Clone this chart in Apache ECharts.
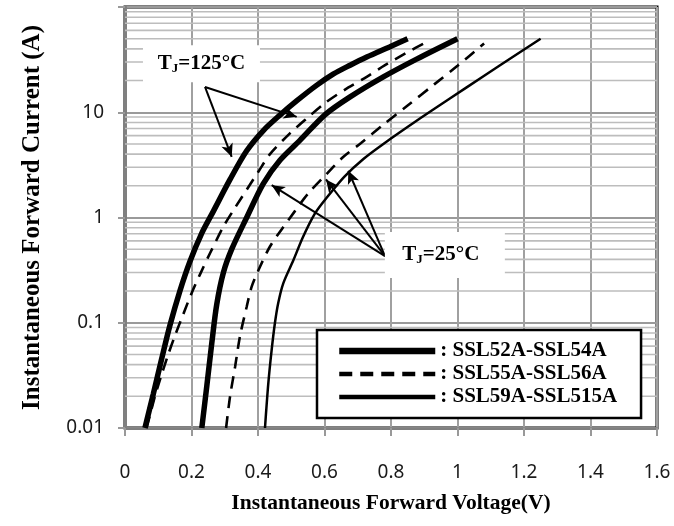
<!DOCTYPE html>
<html>
<head>
<meta charset="utf-8">
<script src="https://cdn.jsdelivr.net/npm/echarts@6/dist/echarts.min.js"></script>
<style>
  html, body { margin: 0; padding: 0; background: #fff; }
  #chart { width: 674px; height: 526px; }
</style>
</head>
<body>
<div id="chart"></div>
<script>
// forward characteristics, [voltage (V), current (A)]
const ssl52At125 = [[0.06, 0.01], [0.085, 0.021], [0.11, 0.045], [0.135, 0.094], [0.165, 0.2], [0.195, 0.38],
  [0.23, 0.7], [0.266, 1.15], [0.316, 2.3], [0.366, 4.3], [0.416, 6.7], [0.466, 9.4], [0.516, 12.8],
  [0.576, 18], [0.626, 23], [0.677, 28], [0.727, 33.5], [0.797, 42], [0.85, 50]];
const ssl55At125 = [[0.065, 0.01], [0.09, 0.02], [0.107, 0.03], [0.13, 0.05], [0.15, 0.075], [0.175, 0.12],
  [0.2, 0.19], [0.226, 0.29], [0.256, 0.46], [0.296, 0.82], [0.326, 1.17], [0.401, 2.72], [0.436, 4.0],
  [0.496, 6.3], [0.546, 8.7], [0.607, 12.6], [0.672, 17.2], [0.727, 21.7], [0.782, 28], [0.842, 36], [0.915, 48]];
const ssl52At25 = [[0.231, 0.01], [0.246, 0.025], [0.261, 0.064], [0.276, 0.15], [0.296, 0.3], [0.321, 0.5],
  [0.366, 1.0], [0.416, 2.1], [0.466, 3.5], [0.526, 5.4], [0.602, 9.5], [0.677, 14], [0.777, 21.7],
  [0.877, 32], [1.0, 50]];
const ssl55At25 = [[0.304, 0.01], [0.316, 0.02], [0.331, 0.038], [0.346, 0.075], [0.366, 0.142], [0.381, 0.22],
  [0.406, 0.34], [0.436, 0.53], [0.471, 0.77], [0.511, 1.15], [0.551, 1.69], [0.607, 2.6], [0.657, 3.78],
  [0.71, 5.1], [0.77, 7.3], [0.85, 11.6], [0.93, 18.4], [1.0, 27.6], [1.08, 45]];
const ssl59At25 = [[0.421, 0.01], [0.431, 0.0265], [0.441, 0.055], [0.451, 0.1], [0.461, 0.155], [0.476, 0.237],
  [0.506, 0.39], [0.536, 0.66], [0.571, 1.09], [0.607, 1.55], [0.66, 2.45], [0.717, 3.6], [0.777, 5.0],
  [0.877, 8.3], [0.977, 13.5], [1.078, 22], [1.128, 28], [1.25, 50]];

const legendNames = ['SSL52A-SSL54A', 'SSL55A-SSL56A', 'SSL59A-SSL515A'];
const xTickLabels = ['0', '0.2', '0.4', '0.6', '0.8', '1', '1.2', '1.4', '1.6'];
const yTickLabels = ['0.01', '0.1', '1', '10', ''];   // 0.01 .. 100, the top one is left blank
const decades = [0.01, 0.1, 1, 10];
const xRange = [0, 1.6];

// annotation labels and the points their arrows aim at, in data units
const label125 = [0.23, 28.9];
const label25 = [0.962, 0.44];
const arrow125From = [0.2406, 17.4];
const arrow125To = [[0.5164, 9.04], [0.3209, 3.77]];
const arrow25From = [0.782, 0.43];
const arrow25To = [[0.4412, 2.03], [0.6045, 2.30], [0.6716, 2.78]];

const serif = 'Liberation Serif';
const sans = 'Noto Sans';

// minor log grid lines (2..9 in every decade), one broken line series
const minorGrid = [];
decades.forEach(d => {
  for (let k = 2; k <= 9; k++) {
    minorGrid.push([xRange[0], k * d], [xRange[1], k * d], [xRange[1], '-']);
  }
});

const thick = { color: '#000', width: 5.5, type: 'solid' };
const dashed = { color: '#000', width: 2.6, type: [12, 8] };
const thin = { color: '#000', width: 2.5, type: 'solid' };

function curve(name, data, style) {
  return {
    name: name,
    type: 'line',
    data: data,
    smooth: 0.3,
    symbol: 'none',
    lineStyle: style,
    itemStyle: { color: '#000' },
    z: 3
  };
}

const tjRich = {
  t: { fontFamily: serif, fontWeight: 'bold', fontSize: 21, color: '#000', lineHeight: 22 },
  s: { fontFamily: serif, fontWeight: 'bold', fontSize: 13, color: '#000', lineHeight: 8, verticalAlign: 'bottom' }
};

const arrows = [];
arrow125To.forEach(p => arrows.push([{ coord: arrow125From }, { coord: p }]));
arrow25To.forEach(p => arrows.push([{ coord: arrow25From }, { coord: p }]));

const chart = echarts.init(document.getElementById('chart'));

chart.setOption({
  animation: false,
  grid: {
    left: 125, right: 17, top: 7, bottom: 98,
    show: true, borderColor: '#000', borderWidth: 3, backgroundColor: 'transparent'
  },
  xAxis: {
    type: 'value',
    min: xRange[0], max: xRange[1], interval: 0.2,
    name: 'Instantaneous Forward Voltage(V)',
    nameLocation: 'middle',
    nameGap: 64,
    nameTextStyle: { fontFamily: serif, fontWeight: 'bold', fontSize: 21.5, color: '#000' },
    axisLine: { show: true, lineStyle: { color: '#808080', width: 2.5 } },
    axisTick: { show: true, length: 8, lineStyle: { color: '#999', width: 2 } },
    axisLabel: {
      margin: 35, fontFamily: sans, fontSize: 19, color: '#1a1a1a',
      formatter: v => xTickLabels[Math.round(v / 0.2)]
    },
    splitLine: { show: true, lineStyle: { color: '#a0a0a0', width: 2 } }
  },
  yAxis: {
    type: 'log',
    logBase: 10,
    min: 0.01, max: 100,
    name: 'Instantaneous Forward Current (A)',
    nameLocation: 'middle',
    nameGap: 80,
    nameTextStyle: { fontFamily: serif, fontWeight: 'bold', fontSize: 25, color: '#000' },
    axisLine: { show: true, lineStyle: { color: '#808080', width: 3 } },
    axisTick: { show: true, length: 7, lineStyle: { color: '#999', width: 2 } },
    axisLabel: {
      margin: 21, fontFamily: sans, fontSize: 19, color: '#1a1a1a',
      formatter: v => yTickLabels[Math.round(Math.log10(v)) + 2]
    },
    splitLine: { show: true, lineStyle: { color: '#9a9a9a', width: 2 } },
    minorTick: { show: false },
    minorSplitLine: { show: false }
  },
  legend: {
    orient: 'vertical',
    left: 317, top: 330,
    padding: [10, 24, 10, 19],
    itemWidth: 96,
    itemHeight: 16,
    itemGap: 1,
    backgroundColor: '#fff',
    borderColor: '#000',
    borderWidth: 2.5,
    borderRadius: 0,
    selectedMode: false,
    formatter: name => ': ' + name,
    textStyle: { fontFamily: serif, fontWeight: 'bold', fontSize: 21, color: '#000', lineHeight: 22 },
    data: [
      { name: legendNames[0], itemStyle: { opacity: 0 }, lineStyle: { width: 6.5, type: 'solid', color: '#000' } },
      { name: legendNames[1], itemStyle: { opacity: 0 }, lineStyle: { width: 4.5, type: [13, 8], color: '#000' } },
      { name: legendNames[2], itemStyle: { opacity: 0 }, lineStyle: { width: 4.5, type: 'solid', color: '#000' } }
    ]
  },
  series: [
    {
      name: 'minor-grid',
      type: 'line',
      data: minorGrid,
      connectNulls: false,
      symbol: 'none',
      silent: true,
      z: 2,
      lineStyle: { color: '#bdbdbd', width: 1.6, type: 'solid' },
      itemStyle: { color: '#bdbdbd' },
      emphasis: { disabled: true }
    },
    curve(legendNames[0], ssl52At125, thick),
    curve(legendNames[1], ssl55At125, dashed),
    curve(legendNames[0], ssl52At25, thick),
    curve(legendNames[1], ssl55At25, dashed),
    curve(legendNames[2], ssl59At25, thin),
    {
      name: 'annotations',
      type: 'line',
      data: [],
      silent: true,
      markPoint: {
        silent: true,
        symbol: 'rect',
        itemStyle: { color: '#fff' },
        emphasis: { disabled: true },
        data: [
          {
            coord: label125, symbolSize: [117, 37],
            label: { show: true, position: 'inside', formatter: '{t|T}{s|J}{t|=125°C}', rich: tjRich }
          },
          {
            coord: label25, symbolSize: [120, 46],
            label: { show: true, position: 'inside', offset: [-4, 0], formatter: '{t|T}{s|J}{t|=25°C}', rich: tjRich }
          }
        ]
      },
      markLine: {
        silent: true,
        symbol: ['none', 'arrow'],
        symbolSize: [9, 13],
        label: { show: false },
        lineStyle: { color: '#000', width: 2, type: 'solid' },
        emphasis: { disabled: true },
        data: arrows
      }
    }
  ]
});
</script>
</body>
</html>
